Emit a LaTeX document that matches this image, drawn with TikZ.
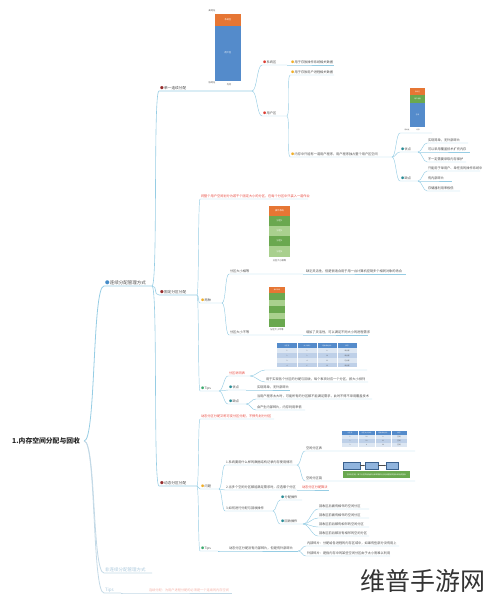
\documentclass[tikz,border=0pt]{standalone}
\usepackage{fontspec}
\setmainfont{Noto Sans CJK SC}
\usetikzlibrary{arrows.meta}
\definecolor{ln}{RGB}{150,205,228}
\definecolor{tx}{RGB}{75,75,75}
\definecolor{rd}{RGB}{230,70,60}
\definecolor{fade}{RGB}{170,200,220}
\definecolor{fadered}{RGB}{242,175,165}
\definecolor{bl}{RGB}{84,139,203}
\definecolor{org}{RGB}{230,118,52}
\definecolor{gd}{RGB}{106,168,79}
\definecolor{gl}{RGB}{169,208,142}
\definecolor{dkr}{RGB}{150,45,45}
\definecolor{rdb}{RGB}{220,60,50}
\definecolor{yl}{RGB}{240,175,40}
\definecolor{tl}{RGB}{40,140,150}
\definecolor{gr}{RGB}{60,170,110}
\definecolor{icb}{RGB}{70,140,200}
\definecolor{rowa}{RGB}{220,230,242}
\definecolor{rowb}{RGB}{190,208,232}
\newcommand\bul[1]{\textcolor{#1}{●}\hspace{0.4pt}}
\newcommand\mm[6]{\node[#5] (#1) at (#2,#3) {#6}; \coordinate (#1-e) at (#4,#3);}
\newcommand\lk[3][5]{\draw[cn] (#2-e) .. controls +(#1,0) and +(-#1,0) .. (#3.south west) -- (#3-e);}
\begin{document}
\begin{tikzpicture}[x=1pt,y=-1pt,
  t/.style={anchor=south west,inner xsep=0.8pt,inner ysep=0.7pt,text=tx,font=\fontsize{3.2}{3.6}\selectfont},
  t2/.style={t,font=\fontsize{3.7}{4.2}\selectfont},
  t1/.style={t,font=\fontsize{4.5}{5}\selectfont},
  rtx/.style={text=rd},
  cn/.style={draw=ln,line width=0.45pt},
  ct/.style={inner sep=0pt,text=white,font=\fontsize{2.2}{2.4}\selectfont},
  cl/.style={inner sep=0pt,text=tx,font=\fontsize{2.2}{2.4}\selectfont},
  tb/.style={inner sep=0pt,text=tx,font=\fontsize{1.6}{1.8}\selectfont},
  tbh/.style={tb,text=white},
  chb/.style={draw=bl!70!black,fill=bl!65,line width=0.3pt,minimum height=7pt,inner sep=0pt}]
\useasboundingbox (0,0) rectangle (489,600);

% root and level 1
\node[font=\fontsize{6.8}{7}\selectfont\bfseries,text=black!85,anchor=west,inner sep=1pt] (root) at (11,441) {1.内存空间分配与回收};
\coordinate (root-e) at ([xshift=3pt]root.east);
\mm{c1}{104}{286}{152}{t1}{\bul{icb}连续分配管理方式}
\mm{c2}{104}{573}{152}{t1,text=fade}{非连续分配管理方式}
\mm{c3}{104}{593}{121}{t1,text=fade}{Tips}
\mm{c3a}{148}{593}{232}{t,text=fadered}{连续分配：为用户进程分配的必须是一个连续的内存空间}
\begin{scope}[cn/.append style={line width=0.8pt}]
\lk[12]{root}{c1}
\end{scope}
\begin{scope}[cn/.append style={line width=0.8pt,draw=fade!70}]
\lk[12]{root}{c2}
\lk[12]{root}{c3}
\end{scope}
\begin{scope}[cn/.append style={draw=fade!70}]
\lk[8]{c3}{c3a}
\end{scope}

% level 2
\mm{a1}{159}{91}{252}{t2}{\bul{dkr}单一连续分配}
\mm{a2}{159}{295}{197}{t2}{\bul{dkr}固定分区分配}
\mm{a3}{159}{486}{197}{t2}{\bul{dkr}动态分区分配}
\begin{scope}[cn/.append style={line width=0.6pt}]
\lk[6]{c1}{a1}
\lk[6]{c1}{a2}
\lk[6]{c1}{a3}
\end{scope}

% ---- single contiguous ----
\fill[org] (215,14) rectangle (241,26);
\fill[bl] (215,26) rectangle (241,81);
\node[ct] (ch1a) at (228,20) {系统区};
\node[ct] (ch1b) at (228,53) {用户区};
\node[cl] (ch1c) at (212,11) {高地址};
\node[cl] (ch1d) at (212,83) {低地址};
\node[cl] (ch1e) at (229,85) {内存};

\mm{b1}{262}{65}{287}{t}{\bul{rdb}系统区}
\mm{b2}{262}{116}{287}{t}{\bul{rdb}用户区}
\lk[5]{a1}{b1}
\lk[5]{a1}{b2}
\mm{d1}{290}{65}{334}{t}{\bul{yl}用于存放操作系统相关数据}
\mm{d2}{290}{75}{334}{t}{\bul{yl}用于存放用户进程相关数据}
\mm{d3}{290}{157}{392}{t}{\bul{yl}内存中只能有一道用户程序，用户程序独占整个用户区空间}
\lk[2]{b1}{d1}
\lk[3]{b2}{d2}
\lk[3]{b2}{d3}

\fill[org] (410,88) rectangle (425,95);
\fill[gd] (410,95) rectangle (425,103);
\fill[bl] (410,103) rectangle (425,127);
\node[ct,font=\fontsize{1.6}{1.8}\selectfont] (ch2a) at (417.5,91.5) {系统区};
\node[ct,font=\fontsize{1.6}{1.8}\selectfont] (ch2b) at (417.5,99) {用户进程};
\node[ct,font=\fontsize{1.6}{1.8}\selectfont] (ch2c) at (417.5,115) {空闲};
\node[cl,font=\fontsize{1.6}{1.8}\selectfont] (ch2d) at (407,129.5) {低地址};
\node[cl,font=\fontsize{1.6}{1.8}\selectfont] (ch2e) at (418,129.5) {内存};

\mm{e0}{400}{133}{432}{t}{}
\mm{e1}{400}{152}{418}{t}{\bul{tl}优点}
\mm{e2}{400}{181}{418}{t}{\bul{tl}缺点}
\lk[4]{d3}{e0}
\lk[4]{d3}{e1}
\lk[4]{d3}{e2}
\mm{f1}{427}{143}{468}{t}{实现简单，无外部碎片}
\mm{f2}{427}{152}{470}{t}{可以采用覆盖技术扩充内存}
\mm{f3}{427}{162}{466}{t}{不一定需要采取内存保护}
\mm{g1}{427}{171}{480}{t}{只能用于单用户、单任务的操作系统中}
\mm{g2}{427}{181}{452}{t}{有内部碎片}
\mm{g3}{427}{191}{460}{t}{存储器利用率极低}
\lk[4]{e1}{f1}
\lk[4]{e1}{f2}
\lk[4]{e1}{f3}
\lk[4]{e2}{g1}
\lk[4]{e2}{g2}
\lk[4]{e2}{g3}

% ---- fixed partitions ----
\mm{h1}{200}{199}{308}{t,rtx}{将整个用户空间划分为若干个固定大小的分区，在每个分区中只装入一道作业}
\mm{h2}{200}{303}{222}{t}{\bul{yl}两种}
\mm{h3}{200}{391}{219}{t}{\bul{gr}Tips}
\lk[2]{a2}{h1}
\lk[2]{a2}{h2}
\lk[2]{a2}{h3}

\fill[org] (269,206) rectangle (290,216);
\fill[gd] (269,216) rectangle (290,226);
\fill[gl] (269,226) rectangle (290,236);
\fill[gd] (269,236) rectangle (290,246);
\fill[gl] (269,246) rectangle (290,257);
\node[ct] (ch3a) at (279.5,211) {操作系统};
\node[ct] (ch3b) at (279.5,221) {分区1};
\node[ct] (ch3c) at (279.5,231) {分区2};
\node[ct] (ch3d) at (279.5,241) {分区3};
\node[ct] (ch3e) at (279.5,251.5) {分区4};
\node[cl] (ch3f) at (279.5,260.5) {分区大小相等};

\fill[org] (269,287) rectangle (285,293);
\fill[gd] (269,293) rectangle (285,300);
\fill[gl] (269,300) rectangle (285,306);
\fill[gd] (269,306) rectangle (285,313);
\fill[gl] (269,313) rectangle (285,319);
\fill[gd] (269,319) rectangle (285,327);
\node[ct,font=\fontsize{1.6}{1.8}\selectfont] (ch4a) at (277,290) {操作系统};
\node[cl] (ch4b) at (277,330) {分区大小不等};

\mm{i1}{229}{274}{303}{t}{分区大小相等}
\mm{j1}{305}{274}{406}{t}{缺乏灵活性，但是很适合用于用一台计算机控制多个相同对象的场合}
\mm{i2}{229}{335}{303}{t}{分区大小不等}
\mm{j2}{305}{335}{368}{t}{增加了灵活性，可以满足不同大小的进程需求}
\lk[4]{h2}{i1}
\lk[4]{h2}{i2}
\lk[1]{i1}{j1}
\lk[1]{i2}{j2}

% table 1
\fill[bl] (277,343) rectangle (357,348);
\fill[rowa] (277,348) rectangle (357,353);
\fill[rowb] (277,353) rectangle (357,358);
\fill[rowa] (277,358) rectangle (357,363);
\fill[rowb] (277,363) rectangle (357,367);
\foreach \xx in {297,317,337} \draw[white,line width=0.3pt] (\xx,343) -- (\xx,367);
\foreach \lab [count=\j] in {分区号,大小(MB),起始地址(M),状态}
  \node[tbh] (ta-0-\j) at (267+20*\j,345.5) {\lab};
\foreach \a/\b/\c/\d [count=\i] in {1/2/8/未分配,2/2/10/未分配,3/4/12/已分配,4/6/16/未分配}{
  \node[tb] (ta-\i-1) at (287,345.5+5*\i) {\a};
  \node[tb] (ta-\i-2) at (307,345.5+5*\i) {\b};
  \node[tb] (ta-\i-3) at (327,345.5+5*\i) {\c};
  \node[tb] (ta-\i-4) at (347,345.5+5*\i) {\d};
}

\mm{k1}{228}{376}{250}{t,rtx}{分区说明表}
\mm{k2}{228}{390}{246}{t}{\bul{tl}优点}
\mm{k3}{228}{404}{246}{t}{\bul{tl}缺点}
\lk[4]{h3}{k1}
\lk[4]{h3}{k2}
\lk[4]{h3}{k3}
\mm{l0}{265}{370}{367}{t}{}
\mm{l1}{265}{382}{368}{t}{用于实现各个分区的分配与回收，每个表项对应一个分区，按大小排列}
\lk[6]{k1}{l0}
\lk[6]{k1}{l1}
\mm{l2}{256}{390}{290}{t}{实现简单，无外部碎片}
\mm{l3}{256}{399}{372}{t}{当用户程序太大时，可能所有的分区都不能满足需求，此时不得不采用覆盖技术}
\mm{l4}{256}{410}{305}{t}{会产生内部碎片，内存利用率低}
\lk[5]{k2}{l2}
\lk[5]{k3}{l3}
\lk[5]{k3}{l4}

% ---- dynamic partitions ----
\mm{m1}{200}{419}{274}{t,rtx}{动态分区分配又称可变分区分配，不预先划分分区}
\mm{m2}{200}{489}{219}{t}{\bul{yl}问题}
\mm{m3}{200}{551}{218}{t}{\bul{gr}Tips}
\lk[2]{a3}{m1}
\lk[2]{a3}{m2}
\lk[2]{a3}{m3}

\mm{n1}{225}{465}{297}{t}{1.系统要用什么样的数据结构记录内存使用情况}
\mm{n2}{225}{490}{297}{t}{2.当多个空闲分区都能满足需求时，应选哪个分区}
\mm{n3}{225}{511}{273}{t}{3.如何进行分配与回收操作}
\lk[3]{m2}{n1}
\lk[3]{m2}{n2}
\lk[3]{m2}{n3}

% table 2
\fill[bl] (342,431) rectangle (407,435);
\fill[rowa] (342,435) rectangle (407,439);
\fill[rowb] (342,439) rectangle (407,443);
\fill[rowa] (342,443) rectangle (407,447);
\foreach \xx in {358,375,391} \draw[white,line width=0.3pt] (\xx,431) -- (\xx,447);
\foreach \lab/\cx [count=\j] in {分区号/350,分区大小(MB)/366.5,起始地址(M)/383,状态/399}
  \node[tbh] (tq-0-\j) at (\cx,433) {\lab};
\foreach \a/\b/\c/\d [count=\i] in {1/20/8/空闲,2/10/32/空闲,3/4/60/空闲}{
  \node[tb] (tq-\i-1) at (350,433+4*\i) {\a};
  \node[tb] (tq-\i-2) at (366.5,433+4*\i) {\b};
  \node[tb] (tq-\i-3) at (383,433+4*\i) {\c};
  \node[tb] (tq-\i-4) at (399,433+4*\i) {\d};
}

% chain
\node[chb,minimum width=17pt] (chn1) at (351.5,465.5) {};
\node[chb,minimum width=13pt] (chn2) at (371.5,465.5) {};
\node[chb,minimum width=12pt] (chn3) at (392,465.5) {};
\draw[-{Stealth[length=1.2pt,width=1.2pt]},line width=0.3pt,draw=tx] (chn1) -- (chn2);
\draw[-{Stealth[length=1.2pt,width=1.2pt]},line width=0.3pt,draw=tx] (chn2) -- (chn3);
\fill[gd] (343,471) rectangle (410,478);
\node[ct,font=\fontsize{1.8}{2}\selectfont] (chn4) at (376.5,474.5) {空闲分区链：每个分区的起始部分和末尾部分分别设置前向指针和后向指针};

\mm{o1}{305}{451}{415}{t}{空闲分区表}
\mm{o2}{305}{481}{415}{t}{空闲分区链}
\lk[4]{n1}{o1}
\lk[4]{n1}{o2}
\mm{o3}{301}{490}{329}{t,rtx}{动态分区分配算法}
\lk[2]{n2}{o3}
\mm{o4}{280}{500}{302}{t}{\bul{tl}分配操作}
\mm{o5}{280}{524}{303}{t}{\bul{tl}回收操作}
\lk[3]{n3}{o4}
\lk[3]{n3}{o5}
\mm{p1}{318}{509}{369}{t}{回收区后面有相邻的空闲分区}
\mm{p2}{318}{518}{369}{t}{回收区前面有相邻的空闲分区}
\mm{p3}{318}{527}{369}{t}{回收区前后都有相邻的空闲分区}
\mm{p4}{318}{536}{369}{t}{回收区前后都没有相邻的空闲分区}
\lk[6]{o5}{p1}
\lk[6]{o5}{p2}
\lk[6]{o5}{p3}
\lk[6]{o5}{p4}

\mm{q1}{228}{551}{298}{t}{动态分区分配没有内部碎片，但是有外部碎片}
\lk[4]{m3}{q1}
\mm{r1}{306}{546}{399}{t}{内部碎片：分配给各进程的内存区域中，如果有些部分没有用上}
\mm{r2}{306}{556}{390}{t}{外部碎片：是指内存中的某些空闲分区由于太小而难以利用}
\lk[4]{q1}{r1}
\lk[4]{q1}{r2}

% watermark
\node[font=\fontsize{25}{25}\selectfont,text=black!80,inner sep=0pt] (wm) at (423,581) {维普手游网};
\end{tikzpicture}
\end{document}
